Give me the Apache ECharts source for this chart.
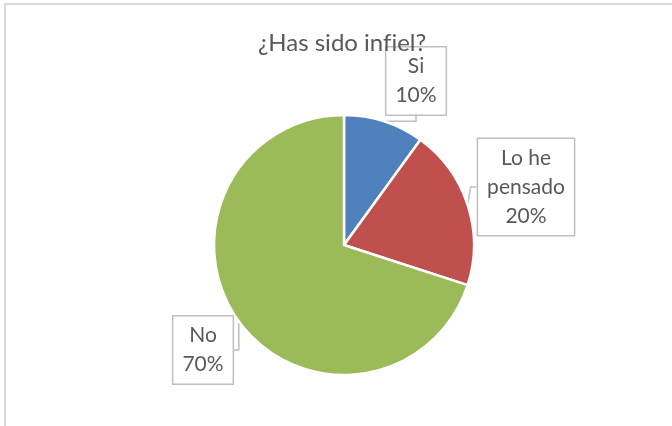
<!DOCTYPE html>
<html>
<head>
<meta charset="utf-8">
<script src="https://cdn.jsdelivr.net/npm/echarts@6/dist/echarts.min.js"></script>
<style>
  html, body { margin: 0; padding: 0; background: #ffffff; }
  #chart { width: 672px; height: 426px; }
</style>
</head>
<body>
<div id="chart"></div>
<script>
  // data
  const categories = ['Si', 'Lo he\npensado', 'No'];
  const values = [10, 20, 70];
  const sliceColors = ['#4f81bd', '#c0504d', '#9bbb59'];

  // where each callout box sits (centre of the box, px)
  const calloutPos = [[416, 81], [526, 187], [203, 350]];

  const textColor = '#595959';
  const fontFamily = 'Lato, "Noto Sans", sans-serif';

  const chart = echarts.init(document.getElementById('chart'), null, { renderer: 'canvas' });

  chart.setOption({
    backgroundColor: '#ffffff',
    animation: false,
    title: {
      // zero-width non-joiner keeps Lato from merging "fi" into a ligature
      text: '¿Has sido inf\u200Ciel?',
      left: 253,
      top: 26,
      textStyle: { color: textColor, fontSize: 24, fontWeight: 'normal', fontFamily: fontFamily }
    },
    graphic: [{
      type: 'rect',
      shape: { x: 5, y: 4, width: 700, height: 500 },
      style: { fill: 'none', stroke: '#d9d9d9', lineWidth: 2 },
      silent: true
    }],
    series: [{
      type: 'pie',
      center: [344, 245],
      radius: 130,
      startAngle: 90,
      clockwise: true,
      itemStyle: { borderColor: '#ffffff', borderWidth: 2.5 },
      label: {
        show: true,
        position: 'outside',
        formatter: '{b}\n{d}%',
        color: textColor,
        fontSize: 21,
        lineHeight: 29,
        fontFamily: fontFamily,
        align: 'center',
        backgroundColor: '#ffffff',
        borderColor: '#bfbfbf',
        borderWidth: 1.5,
        padding: [5, 9, 4, 9]
      },
      labelLine: {
        show: true,
        length: 6,
        length2: 6,
        lineStyle: { color: '#bfbfbf', width: 1.5 }
      },
      labelLayout: function (params) {
        const p = calloutPos[params.dataIndex];
        return { x: p[0], y: p[1], align: 'center', verticalAlign: 'middle' };
      },
      data: categories.map(function (name, i) {
        return { name: name, value: values[i], itemStyle: { color: sliceColors[i] } };
      })
    }]
  });
</script>
</body>
</html>
